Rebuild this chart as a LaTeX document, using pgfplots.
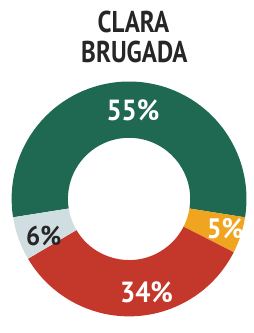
\documentclass[border=0pt]{standalone}
\usepackage{pgfplots}
\pgfplotsset{compat=1.18}
\usepackage{pgfplotstable}
\usepackage{fontspec}
\setmainfont{PT Sans}
\definecolor{cgreen}{HTML}{1F6953}
\definecolor{cred}{HTML}{C4372B}
\definecolor{cyellow}{HTML}{EFA520}
\definecolor{cblue}{HTML}{D0DEE1}
\pgfplotstableread{
label share
55 55
5 5
34 34
6 6
}\shares
\def\cx{133}\def\cy{128}\def\ro{121}\def\ri{63}
\newcommand\ringwedge[3]{%
  \fill[#1] (axis cs:{\cx+\ro*cos(#2)},{\cy+\ro*sin(#2)})
    arc[start angle=#2, end angle=#3, radius=\ro pt]
    -- (axis cs:{\cx+\ri*cos(#3)},{\cy+\ri*sin(#3)})
    arc[start angle=#3, end angle=#2, radius=\ri pt] -- cycle;}
\begin{document}
\begin{tikzpicture}
\pgfplotstablegetelem{0}{share}\of\shares \let\sA\pgfplotsretval
\pgfplotstablegetelem{1}{share}\of\shares \let\sB\pgfplotsretval
\pgfplotstablegetelem{2}{share}\of\shares \let\sC\pgfplotsretval
\pgfplotstablegetelem{3}{share}\of\shares \let\sD\pgfplotsretval
\pgfmathsetmacro{\aO}{189}
\pgfmathsetmacro{\aA}{\aO-3.6*\sA}
\pgfmathsetmacro{\aB}{\aA-3.6*\sB}
\pgfmathsetmacro{\aC}{\aB-3.6*\sC}
\pgfmathsetmacro{\aD}{\aC-3.6*\sD}
\begin{axis}[
  width=261pt, height=333pt, scale only axis,
  xmin=0, xmax=261, ymin=0, ymax=333,
  hide axis, clip=false,
]
\path (axis cs:0,0) rectangle (axis cs:261,333);
\ringwedge{cgreen}{\aO}{\aA}
\ringwedge{cyellow}{\aA}{\aB}
\ringwedge{cred}{\aB}{\aC}
\ringwedge{cblue}{\aC}{\aD}
\node[inner sep=0, font={\fontsize{31}{31}\selectfont\bfseries\addfontfeature{FakeStretch=0.83}}, text=black!85] at (axis cs:137.5,310.5) {CLARA};
\node[inner sep=0, font={\fontsize{31}{31}\selectfont\bfseries\addfontfeature{FakeStretch=0.83}}, text=black!85] at (axis cs:138.5,279) {BRUGADA};
\node[inner sep=0, font={\fontsize{30}{30}\selectfont\bfseries\addfontfeature{FakeStretch=0.92}}, text=white] at (axis cs:137,219) {55\%};
\node[inner sep=0, font={\fontsize{30}{30}\selectfont\bfseries\addfontfeature{FakeStretch=0.92}}, text=white] at (axis cs:151,32) {34\%};
\node[inner sep=0, font={\fontsize{28}{28}\selectfont\bfseries\addfontfeature{FakeStretch=0.92}}, text=black!85] at (axis cs:45,90) {6\%};
\node[inner sep=0, font={\fontsize{29}{29}\selectfont\bfseries\addfontfeature{FakeStretch=0.92}}, text=white] at (axis cs:232,97) {5\%};
\end{axis}
\end{tikzpicture}
\end{document}
